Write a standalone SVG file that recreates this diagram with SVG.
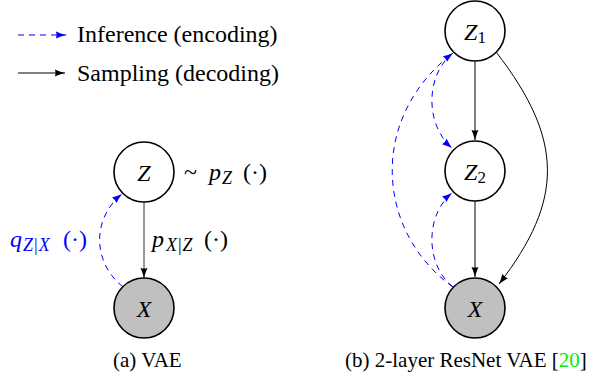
<svg xmlns="http://www.w3.org/2000/svg" width="596" height="377" viewBox="0 0 596 377">
<defs>
  <marker id="ab" markerUnits="userSpaceOnUse" markerWidth="10" markerHeight="8" refX="10" refY="3.5" orient="auto" overflow="visible">
    <path d="M10,3.5 C6.5,2.6 3,1.3 0,0 Q1.2,3.5 0,7 C3,5.7 6.5,4.4 10,3.5 Z" fill="#000"/>
  </marker>
  <marker id="abl" markerUnits="userSpaceOnUse" markerWidth="10" markerHeight="8" refX="10" refY="3.5" orient="auto" overflow="visible">
    <path d="M10,3.5 C6.5,2.6 3,1.3 0,0 Q1.2,3.5 0,7 C3,5.7 6.5,4.4 10,3.5 Z" fill="#0000ff"/>
  </marker>
</defs>
<g id="legend">
  <path d="M18,35 H66" fill="none" stroke="#0000ff" stroke-width="1" stroke-dasharray="6 5" marker-end="url(#abl)"/>
  <text font-family="Liberation Serif" x="77" y="42" font-size="24">Inference (encoding)</text>
  <path d="M18,73 H65" fill="none" stroke="#000" stroke-width="1" marker-end="url(#ab)"/>
  <text font-family="Liberation Serif" x="77" y="81" font-size="24">Sampling (decoding)</text>
</g>

<g id="connectors" fill="none" stroke-width="1">
  <g stroke="#000">
    <path d="M144,202 V278" stroke="#333" marker-end="url(#ab)"/>
    <path d="M475,61 V140" marker-end="url(#ab)"/>
    <path d="M475,201 V277" marker-end="url(#ab)"/>
    <path d="M496.5,52.5 C564,140 564,200 499,284" marker-end="url(#ab)"/>
  </g>
  <g stroke="#0000ff" stroke-dasharray="6 5">
    <path d="M122.8,286.8 C92,262 92,218 122,194" marker-end="url(#abl)"/>
    <path d="M453,287 C376,232 368,118 453,53" marker-end="url(#abl)"/>
    <path d="M453,53 C425,75 425,125 452,148" marker-end="url(#abl)"/>
    <path d="M453,287 C425,265 425,215 452,193" marker-end="url(#abl)"/>
  </g>
</g>

<g id="labels">
  <text font-family="Liberation Serif" x="184" y="180" font-size="24">~</text>
  <text font-family="Liberation Serif" font-style="italic" x="209" y="180" font-size="24">p</text>
  <text font-family="Liberation Serif" font-style="italic" font-size="18" x="222" y="184">Z</text>
  <text font-family="Liberation Serif" x="243" y="180" font-size="24">(·)</text>

  <text font-family="Liberation Serif" font-style="italic" x="152" y="247" font-size="24">p</text>
  <text font-family="Liberation Serif" font-style="italic" font-size="18" letter-spacing="1" x="166" y="251">X<tspan font-style="normal">|</tspan>Z</text>
  <text font-family="Liberation Serif" x="204" y="247" font-size="24">(·)</text>

  <text font-family="Liberation Serif" fill="#0000ff" font-style="italic" x="10" y="247" font-size="24">q</text>
  <text font-family="Liberation Serif" fill="#0000ff" font-style="italic" font-size="18" letter-spacing="1" x="23" y="251">Z<tspan font-style="normal">|</tspan>X</text>
  <text font-family="Liberation Serif" fill="#0000ff" x="63" y="247" font-size="24">(·)</text>
</g>

<g id="node-Z">
  <circle cx="144" cy="172" r="30" fill="#fff" stroke="#000" stroke-width="1.6"/>
  <text font-family="Liberation Serif" font-size="24" text-anchor="middle" font-style="italic" x="144" y="180.5">Z</text>
</g>
<g id="node-X-a">
  <circle cx="144" cy="308" r="30" fill="#c0c0c0" stroke="#000" stroke-width="1.6"/>
  <text font-family="Liberation Serif" font-size="24" text-anchor="middle" font-style="italic" x="144" y="316.5">X</text>
</g>
<g id="node-Z1">
  <circle cx="475" cy="31" r="30" fill="#fff" stroke="#000" stroke-width="1.6"/>
  <text font-family="Liberation Serif" font-size="24" text-anchor="middle" x="475" y="39.5"><tspan font-style="italic">Z</tspan><tspan font-size="17" dy="3">1</tspan></text>
</g>
<g id="node-Z2">
  <circle cx="475" cy="171" r="30" fill="#fff" stroke="#000" stroke-width="1.6"/>
  <text font-family="Liberation Serif" font-size="24" text-anchor="middle" x="475" y="179.5"><tspan font-style="italic">Z</tspan><tspan font-size="17" dy="3">2</tspan></text>
</g>
<g id="node-X-b">
  <circle cx="475" cy="308" r="30" fill="#c0c0c0" stroke="#000" stroke-width="1.6"/>
  <text font-family="Liberation Serif" font-size="24" text-anchor="middle" font-style="italic" x="475" y="316.5">X</text>
</g>

<g id="captions">
  <text font-family="Liberation Serif" x="113" y="367" font-size="21">(a) VAE</text>
  <text font-family="Liberation Serif" x="345" y="367" font-size="21">(b) 2-layer ResNet VAE [<tspan fill="#00ee00">20</tspan>]</text>
</g>
</svg>
